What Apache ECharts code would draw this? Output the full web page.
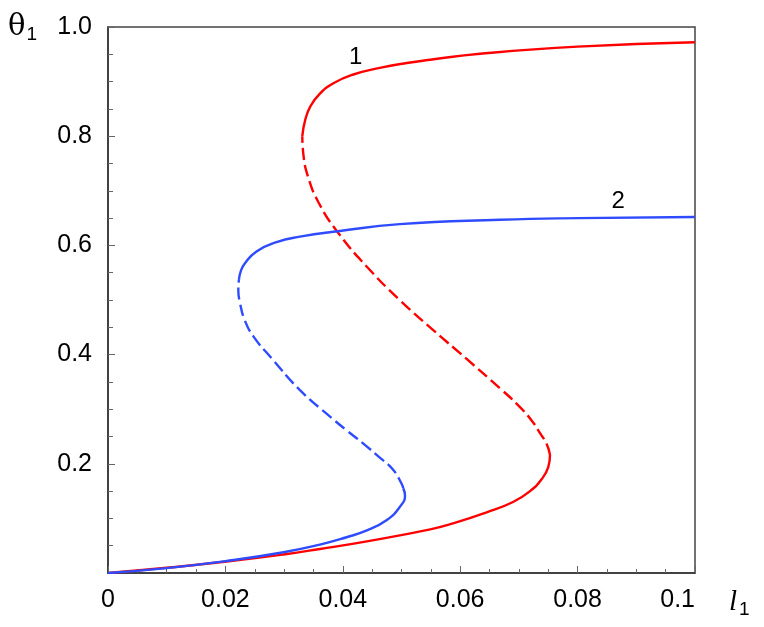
<!DOCTYPE html>
<html>
<head>
<meta charset="utf-8">
<script src="https://cdn.jsdelivr.net/npm/echarts@6/dist/echarts.min.js"></script>
<style>
  html, body { margin: 0; padding: 0; background: #fff; }
  #chart { width: 764px; height: 627px; }
</style>
</head>
<body>
<div id="chart"></div>
<script>
  // curve 1 (red): stable lower, unstable middle, stable upper  [l1, theta1]
  var curve1Lower = [[0, 0], [0.01, 0.0095], [0.0202, 0.021], [0.0299, 0.034], [0.0361, 0.044], [0.0441, 0.058],
    [0.0549, 0.080], [0.0588, 0.091], [0.0645, 0.111], [0.069, 0.130], [0.0719, 0.150], [0.0739, 0.172],
    [0.075, 0.194], [0.0753, 0.216]]
  var curve1Middle = [[0.0753, 0.216], [0.0747, 0.237], [0.0736, 0.256], [0.0722, 0.279], [0.0698, 0.308],
    [0.0668, 0.338], [0.0611, 0.392], [0.0554, 0.445], [0.0497, 0.50], [0.0441, 0.561], [0.039, 0.626],
    [0.0358, 0.680], [0.0341, 0.725], [0.0333, 0.765], [0.0331, 0.80]]
  var curve1Upper = [[0.0331, 0.80], [0.0336, 0.830], [0.0345, 0.855], [0.0361, 0.878], [0.0384, 0.897],
    [0.0418, 0.913], [0.0463, 0.925], [0.0509, 0.934], [0.0549, 0.940], [0.0634, 0.951], [0.080, 0.964], [0.1, 0.972]]

  // curve 2 (blue)
  var curve2Lower = [[0, 0], [0.01, 0.009], [0.0202, 0.022], [0.0299, 0.038], [0.0361, 0.052], [0.0405, 0.065],
    [0.0441, 0.078], [0.0475, 0.097], [0.0497, 0.121], [0.0506, 0.142], [0.0503, 0.155]]
  var curve2Middle = [[0.0503, 0.155], [0.050, 0.164], [0.0485, 0.190], [0.046, 0.214], [0.0435, 0.237],
    [0.0408, 0.260], [0.0381, 0.284], [0.0327, 0.335], [0.0279, 0.393], [0.0248, 0.433], [0.0233, 0.463],
    [0.0225, 0.494], [0.0222, 0.518], [0.0223, 0.537]]
  var curve2Upper = [[0.0223, 0.537], [0.0226, 0.552], [0.0233, 0.567], [0.0253, 0.589], [0.0287, 0.606],
    [0.0327, 0.616], [0.0392, 0.626], [0.0497, 0.639], [0.0668, 0.647], [0.080, 0.650], [0.1, 0.652]]

  var xTickLabels = ['0', '0.02', '0.04', '0.06', '0.08', '0.1']
  var yTickLabels = ['', '0.2', '0.4', '0.6', '0.8', '1.0']
  var curveNames = ['1', '2']
  var curveLabelPos = [[0.0422, 0.944], [0.0869, 0.68]]

  var red = '#ff0000'
  var blue = '#2f4bff'
  var font = 'Liberation Sans, Arial, sans-serif'

  function makeLine(data, color, dashed, labelIdx) {
    var s = {
      type: 'line',
      data: data,
      showSymbol: false,
      smooth: 0.5,
      lineStyle: { color: color, width: 2.4, type: dashed ? [12, 5] : 'solid' },
      z: 3
    }
    if (labelIdx != null) {
      s.markPoint = {
        symbol: 'circle',
        symbolSize: 0,
        label: { show: true, position: 'inside', formatter: curveNames[labelIdx], color: '#000', fontSize: 24, fontFamily: font },
        data: [{ coord: curveLabelPos[labelIdx] }]
      }
    }
    return s
  }

  var chart = echarts.init(document.getElementById('chart'))
  chart.setOption({
    animation: false,
    backgroundColor: '#fff',
    grid: { left: 108, right: 69, top: 27, bottom: 54, show: true, borderColor: '#444', borderWidth: 1.5 },
    xAxis: {
      type: 'value', min: 0, max: 0.1, interval: 0.02,
      axisLine: { lineStyle: { color: '#333', width: 1.5 } },
      axisTick: { inside: true, length: 7, lineStyle: { color: '#666' } },
      minorTick: { show: true, splitNumber: 4, length: 4, lineStyle: { color: '#666' } },
      splitLine: { show: false },
      axisLabel: {
        margin: 15, color: '#000', fontSize: 25, fontFamily: font, alignMaxLabel: 'right',
        formatter: function (v) { return xTickLabels[Math.round(v / 0.02)] }
      }
    },
    yAxis: {
      type: 'value', min: 0, max: 1, interval: 0.2,
      axisLine: { lineStyle: { color: '#333', width: 1.5 } },
      axisTick: { inside: true, length: 7, lineStyle: { color: '#666' } },
      minorTick: { show: true, splitNumber: 4, length: 5, lineStyle: { color: '#666' } },
      splitLine: { show: false },
      axisLabel: {
        margin: 16, color: '#000', fontSize: 25, fontFamily: font,
        formatter: function (v) { return yTickLabels[Math.round(v / 0.2)] }
      }
    },
    graphic: [
      {
        type: 'text', left: 8, top: 13,
        style: {
          text: '{a|θ}{b|1}',
          rich: {
            a: { fontSize: 29, fontFamily: 'DejaVu Serif, serif', fill: '#000' },
            b: { fontSize: 19, fontFamily: font, fill: '#000', padding: [14, 0, 0, 1] }
          }
        }
      },
      {
        type: 'text', left: 729, top: 588,
        style: {
          text: '{a|l}{b|1}',
          rich: {
            a: { fontSize: 29, fontFamily: 'Liberation Serif, serif', fontStyle: 'italic', fill: '#000' },
            b: { fontSize: 19, fontFamily: font, fill: '#000', padding: [14, 0, 0, 2] }
          }
        }
      }
    ],
    series: [
      makeLine(curve1Lower, red, false),
      makeLine(curve1Middle, red, true),
      makeLine(curve1Upper, red, false, 0),
      makeLine(curve2Lower, blue, false),
      makeLine(curve2Middle, blue, true),
      makeLine(curve2Upper, blue, false, 1)
    ]
  })
</script>
</body>
</html>
